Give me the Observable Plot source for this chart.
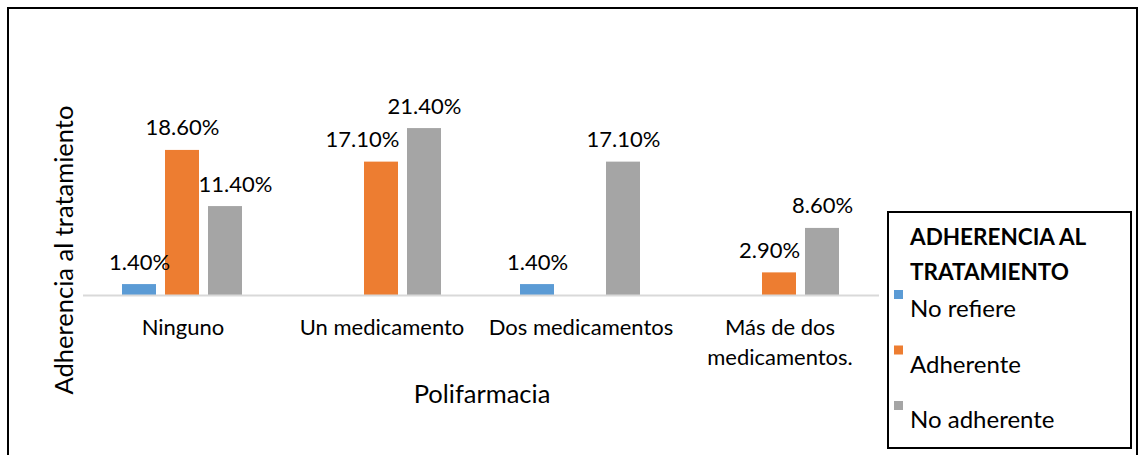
<!DOCTYPE html>
<html><head><meta charset="utf-8">
<script src="https://cdn.jsdelivr.net/npm/d3@7"></script>
<script src="https://cdn.jsdelivr.net/npm/@observablehq/plot@0.6"></script>
<style>
body{margin:0;background:#fff;}
#wrap{position:relative;width:1143px;height:455px;overflow:hidden;font-family:Lato,"Open Sans",sans-serif;}
#wrap svg{position:absolute;left:0;top:0;}
</style></head>
<body><div id="wrap"></div>
<script>
const categories = ["Ninguno", "Un medicamento", "Dos medicamentos", "Más de dos medicamentos."];
const tickLabels = ["Ninguno", "Un medicamento", "Dos medicamentos", "Más de dos\nmedicamentos."];
const series = ["No refiere", "Adherente", "No adherente"];
const noRefiere = [1.4, 0, 1.4, 0];
const adherente = [18.6, 17.1, 0, 2.9];
const noAdherente = [11.4, 21.4, 17.1, 8.6];
const colors = ["#5b9bd5", "#ed7d31", "#a5a5a5"];
const xTitle = "Polifarmacia";
const yTitle = "Adherencia al tratamiento";
const legendTitle = ["ADHERENCIA AL", "TRATAMIENTO"];

const values = [noRefiere, adherente, noAdherente];
const data = [];
categories.forEach((c, i) => series.forEach((s, j) => {
  if (values[j][i] > 0) data.push({cat: c, series: s, value: values[j][i], label: values[j][i].toFixed(2) + "%"});
}));
const ticks = categories.map((c, i) => ({cat: c, label: tickLabels[i]}));

// Excel moved some labels sideways to avoid overlap
const shifted = (d) => (d.cat === "Ninguno" && d.series === "No adherente") ? 10 :
  (d.cat === "Un medicamento" && d.series === "Adherente") ? -19 :
  (d.cat === "Más de dos medicamentos." && d.series === "Adherente") ? -10 : 0;

const FONT = "Lato";
const textOpts = {fx: "cat", x: "series", y: "value", text: "label", lineAnchor: "bottom", fontSize: 22, fill: "#000", fontFamily: FONT};

const chart = Plot.plot({
  width: 1143, height: 455,
  marginLeft: 83, marginRight: 264, marginTop: 100, marginBottom: 160,
  style: {fontFamily: FONT, background: "transparent"},
  fx: {domain: categories, padding: 0, axis: null, label: null},
  x: {domain: series, paddingInner: 0.205, paddingOuter: 0.864, axis: null},
  y: {domain: [0, 25], axis: null},
  color: {domain: series, range: colors},
  marks: [
    Plot.barY(data, {fx: "cat", x: "series", y: "value", fill: "series"}),
    Plot.ruleY([0], {stroke: "#d9d9d9", strokeWidth: 2}),
    Plot.text(data.filter(d => shifted(d) === 0), {...textOpts, dy: -15}),
    ...[10, -19, -10].map(o => Plot.text(data.filter(d => shifted(d) === o), {...textOpts, dy: -15, dx: o})),
    Plot.text(ticks, {fx: "cat", text: "label", frameAnchor: "bottom", lineAnchor: "top", dy: 19, lineHeight: 1.33, fontSize: 22, fill: "#000", fontFamily: FONT})
  ]
});
document.getElementById("wrap").appendChild(chart);

// overlay: frame, titles, legend
const svg = d3.select("#wrap").append("svg").attr("width", 1143).attr("height", 455)
  .style("font-family", FONT);
svg.append("rect").attr("x", 8).attr("y", 8).attr("width", 1129).attr("height", 470)
  .attr("fill", "none").attr("stroke", "#000").attr("stroke-width", 2);
svg.append("text").attr("x", 482).attr("y", 403).attr("text-anchor", "middle")
  .attr("font-size", 25.5).text(xTitle);
svg.append("text").attr("transform", "translate(73,250) rotate(-90)").attr("text-anchor", "middle")
  .attr("font-size", 25.5).text(yTitle);
const lg = svg.append("g");
lg.append("rect").attr("x", 888).attr("y", 212).attr("width", 243).attr("height", 236)
  .attr("fill", "#fff").attr("stroke", "#000").attr("stroke-width", 2);
legendTitle.forEach((t, i) => lg.append("text").attr("x", 910).attr("y", 245 + i * 35)
  .attr("font-size", 22.5).attr("font-weight", "bold").text(t));
series.forEach((s, i) => {
  const by = 317 + i * 55.5;
  lg.append("rect").attr("x", 894).attr("y", by - 27).attr("width", 9).attr("height", 9).attr("fill", colors[i]);
  lg.append("text").attr("x", 910).attr("y", by).attr("font-size", 24).text(s);
});
</script></body></html>
